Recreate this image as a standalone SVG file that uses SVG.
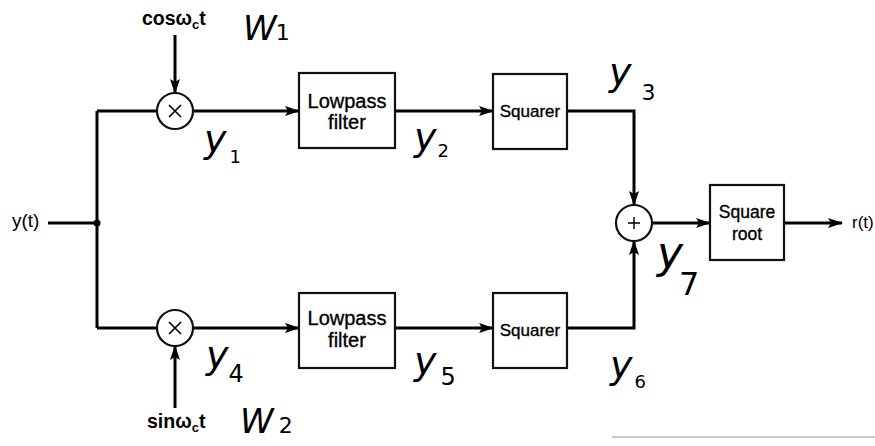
<svg xmlns="http://www.w3.org/2000/svg" width="875" height="446" viewBox="0 0 875 446">
<style>
.w{stroke:#000;stroke-width:3;fill:none}
.b{stroke:#111;stroke-width:2.2;fill:#fff}
.t{font-family:"Liberation Sans",Arial,sans-serif;fill:#000;text-anchor:middle;stroke:#000;stroke-width:0.35}
.s{font-family:"Liberation Sans",Arial,sans-serif;fill:#000}
.h{font-family:"DejaVu Sans",sans-serif;fill:#000;font-style:italic}
</style>
<defs>
<marker id="ah" markerUnits="userSpaceOnUse" markerWidth="16" markerHeight="12" refX="14" refY="5" orient="auto">
<path d="M0,0 L15,5 L0,10 L3,5 z" fill="#000"/>
</marker>
</defs>
<rect width="875" height="446" fill="#fff"/>
<line x1="612" y1="437" x2="875" y2="437" stroke="#c8c8c8" stroke-width="2"/>
<g id="connectors">
<path class="w" d="M48,223 H97"/>
<circle cx="97" cy="223" r="3.5" fill="#000"/>
<path class="w" d="M97,111 V328"/>
<path class="w" d="M97,111 H157"/>
<path class="w" d="M97,328 H157"/>
<path class="w" d="M193,111 H299" marker-end="url(#ah)"/>
<path class="w" d="M395,111 H493" marker-end="url(#ah)"/>
<path class="w" d="M567,111 H634 V205" marker-end="url(#ah)"/>
<path class="w" d="M193,328 H299" marker-end="url(#ah)"/>
<path class="w" d="M395,328 H493" marker-end="url(#ah)"/>
<path class="w" d="M567,328 H634 V241" marker-end="url(#ah)"/>
<path class="w" d="M652,223 H710" marker-end="url(#ah)"/>
<path class="w" d="M784,223 H842" marker-end="url(#ah)"/>
<path class="w" d="M175,35 V93" marker-end="url(#ah)"/>
<path class="w" d="M175,408 V346" marker-end="url(#ah)"/>
</g>
<g id="mult1">
<circle class="b" cx="175" cy="111" r="18"/>
<path d="M169,105 L181,117 M181,105 L169,117" stroke="#000" stroke-width="1.6"/>
</g>
<g id="mult2">
<circle class="b" cx="175" cy="328" r="18"/>
<path d="M169,322 L181,334 M181,322 L169,334" stroke="#000" stroke-width="1.6"/>
</g>
<g id="sum">
<circle class="b" cx="634" cy="223" r="18"/>
<path d="M634,217 V229 M628,223 H640" stroke="#000" stroke-width="1.4"/>
</g>
<g id="lp1">
<rect class="b" x="299" y="73" width="96" height="75"/>
<text class="t" x="347" y="108" font-size="20">Lowpass</text>
<text class="t" x="347" y="129" font-size="20">filter</text>
</g>
<g id="sq1">
<rect class="b" x="493" y="74" width="74" height="75"/>
<text class="t" x="530" y="117" font-size="17">Squarer</text>
</g>
<g id="lp2">
<rect class="b" x="299" y="293" width="96" height="75"/>
<text class="t" x="347" y="325" font-size="20">Lowpass</text>
<text class="t" x="347" y="347" font-size="20">filter</text>
</g>
<g id="sq2">
<rect class="b" x="493" y="293" width="74" height="75"/>
<text class="t" x="530" y="336" font-size="17">Squarer</text>
</g>
<g id="sqrt">
<rect class="b" x="710" y="185" width="74" height="75"/>
<text class="t" x="747" y="218" font-size="17.5">Square</text>
<text class="t" x="747" y="240" font-size="17.5">root</text>
</g>
<g id="labels">
<text class="s" x="12" y="227" font-size="19">y(t)</text>
<text class="s" x="852" y="228" font-size="17">r(t)</text>
<text class="s" x="142" y="25" font-size="19.5" font-weight="bold">cosω<tspan font-size="13" dy="4">c</tspan><tspan dy="-4">t</tspan></text>
<text class="s" x="147" y="428" font-size="19.5" font-weight="bold">sinω<tspan font-size="13" dy="4">c</tspan><tspan dy="-4">t</tspan></text>
<text class="h" x="243" y="40" font-size="34">W<tspan font-size="22" font-style="normal" dx="-1">1</tspan></text>
<text class="h" x="240" y="433" font-size="34">W<tspan font-size="22" font-style="normal" dx="5">2</tspan></text>
<text class="h" x="204" y="152" font-size="38">y<tspan font-size="18" dx="3" dy="11" font-style="normal">1</tspan></text>
<text class="h" x="414" y="150" font-size="38">y<tspan font-size="18" dx="1" dy="7" font-style="normal">2</tspan></text>
<text class="h" x="609" y="85" font-size="38">y<tspan font-size="22" dx="10" dy="15" font-style="normal">3</tspan></text>
<text class="h" x="206" y="368" font-size="38">y<tspan font-size="24" dx="0" dy="14" font-style="normal">4</tspan></text>
<text class="h" x="414" y="374" font-size="38">y<tspan font-size="24" dx="4" dy="11" font-style="normal">5</tspan></text>
<text class="h" x="610" y="378" font-size="38">y<tspan font-size="18" dx="2" dy="10" font-style="normal">6</tspan></text>
<text class="h" x="657" y="268" font-size="44">y<tspan font-size="32" dx="-4" dy="27" font-style="normal">7</tspan></text>
</g>
</svg>
